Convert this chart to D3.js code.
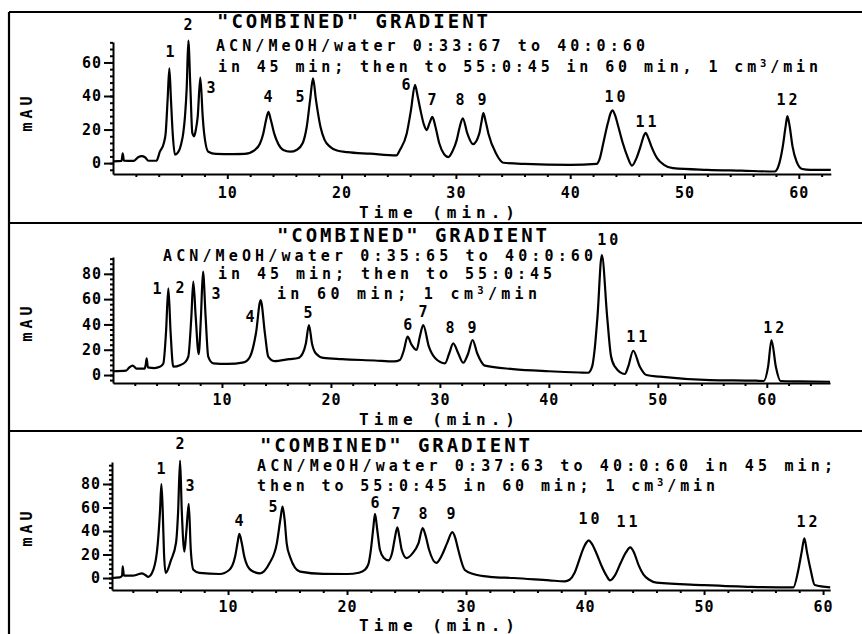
<!DOCTYPE html>
<html>
<head>
<meta charset="UTF-8">
<title>"COMBINED" GRADIENT chromatograms</title>
<script src="https://cdnjs.cloudflare.com/ajax/libs/d3/7.8.5/d3.min.js"></script>
<style>
  body { margin: 0; background: #fff; }
  svg text { font-family: "DejaVu Sans Mono", monospace; font-weight: bold; fill: #000; }
  .axis path, .axis line { stroke: #000; stroke-width: 2; }
  .axis text { font-family: "DejaVu Sans Mono", monospace; font-weight: bold; font-size: 15px; letter-spacing: 1px; }
</style>
</head>
<body>
<script>
// peak numbers, same 12 compounds in every run
var peakNames = ["1", "2", "3", "4", "5", "6", "7", "8", "9", "10", "11", "12"];

// traces: [time (min), signal (mAU)]
var trace1 = [
  [0,1],[0.75,1.3],[0.85,5.8],[0.95,1.5],[1.8,1.3],[2.2,3.5],[2.5,4.2],[2.8,3.5],[3.1,1.4],[3.8,1.4],
  [4.1,6.8],[4.45,12],[4.61,18],[4.78,38],[4.93,56.5],[5.07,38],[5.22,18],[5.42,5],[5.7,6.5],[5.95,11],
  [6.15,18],[6.3,28],[6.45,45],[6.59,73],[6.77,45],[6.94,18],[7.1,16],[7.25,20],[7.41,27.6],[7.64,51],
  [7.85,27.6],[7.97,18],[8.34,6.8],[9,5.5],[10.5,5.4],[11.5,5.5],[12.4,7.8],[12.85,11.5],[13.15,17.7],
  [13.4,26],[13.6,30.5],[13.8,26],[14.1,17.7],[14.45,11.5],[14.9,7.8],[15.5,6.8],[16.1,8],[16.6,12],
  [16.95,21.7],[17.25,38],[17.5,50.5],[17.75,38],[18.15,21.7],[18.5,14],[19.0,9.7],[19.6,7.5],[20.5,6.5],
  [22.5,5.6],[24.8,4.6],[25.1,7.8],[25.7,17.7],[26.07,31.6],[26.42,46.6],[26.65,40],[26.9,31.6],[27.2,23],
  [27.44,19.7],[27.7,24],[27.94,27.5],[28.2,22],[28.55,11.7],[28.95,5.5],[29.34,3.6],[29.7,7],[30.07,13.7],
  [30.35,22],[30.6,26.7],[31.0,17.7],[31.5,11.3],[32.05,17.7],[32.25,25],[32.4,29.8],[32.6,25],[32.84,17.7],
  [33.5,5.8],[34.15,0.2],[36,-0.5],[40,-1],[42.3,-0.5],[42.6,3],[42.9,12],[43.3,24],[43.55,30],[43.7,31.5],
  [43.9,29],[44.2,22],[44.6,12],[45.0,4],[45.4,-1.5],[45.8,3],[46.2,11],[46.45,16.5],[46.6,18],[46.8,15.5],
  [47.1,10],[47.6,3],[48.2,-1],[49,-3],[52,-4],[55,-4.5],[57.9,-5],[58.3,0],[58.6,10],[58.85,22],[59.0,28],
  [59.2,22],[59.45,10],[59.8,1],[60.3,-3.5],[61,-4],[62.8,-4]
];
var trace2 = [
  [0,3],[1.2,3.5],[1.5,6],[1.8,7.4],[2.2,5],[2.9,5],[3.0,8],[3.09,13.2],[3.2,6],[3.8,5.5],[4.3,6.5],
  [4.62,9.2],[4.86,33],[5.08,68.5],[5.29,33],[5.53,6.6],[6.2,8],[6.6,10],[6.91,14.5],[7.19,46],[7.37,73.8],
  [7.59,46],[7.86,16.6],[8.07,46],[8.26,81.7],[8.5,46],[8.74,14.5],[9.2,9.2],[10.5,8.8],[12.0,10],
  [12.57,14.5],[13.12,33],[13.55,59.3],[13.94,33],[14.25,14.5],[14.8,11],[16.2,12.6],[17.0,13.5],[17.4,17],
  [17.7,25],[17.98,39.5],[18.26,25],[18.62,17],[19.3,13.5],[21,12.5],[24,11.5],[25.8,10.8],[26.33,11.9],
  [26.7,19.8],[27.03,30.3],[27.4,24],[27.86,19.8],[28.15,30],[28.47,39.5],[28.99,22.4],[29.6,13],
  [30.46,9.2],[30.86,17.2],[31.22,25],[31.68,17.2],[32.14,9.7],[32.6,17.2],[33.0,27.7],[33.42,17.2],
  [34.13,7.4],[36.7,4.7],[40,3],[42.8,2],[43.6,1.8],[43.97,6.6],[44.2,20],[44.46,46],[44.86,94.9],
  [45.35,46],[45.7,15],[46.06,6.6],[46.97,0.8],[47.28,6.6],[47.74,19.2],[48.35,6.6],[48.96,0],[50.18,-1.3],
  [54.8,-4],[59.0,-4.5],[59.72,-4.7],[60.12,6.6],[60.43,27.7],[60.83,6.6],[61.26,-4.7],[63,-5],[65.8,-5.3]
];
var trace3 = [
  [0.25,0],[0.9,0.5],[1.1,2],[1.15,10],[1.25,2],[2.0,2],[2.4,3],[2.75,4],[3.05,2.5],[3.3,1],[3.6,4],
  [4.01,21],[4.29,58],[4.4,80],[4.51,58],[4.62,21],[4.76,4.3],[5.2,15],[5.63,30],[5.8,55],[5.97,99.8],
  [6.11,58],[6.33,22.4],[6.5,40],[6.7,63],[6.87,24],[7.09,7],[7.6,4.3],[9.3,3.4],[10.1,6.8],[10.59,18],
  [10.8,30],[10.95,37.5],[11.15,30],[11.37,18],[11.9,6.8],[12.69,4],[13.48,12.5],[14.1,29.5],[14.4,50],
  [14.58,60.7],[14.75,50],[14.93,29.5],[15.21,18],[16.05,5.4],[18,3.5],[20,3.4],[21.0,4.5],[21.5,7],
  [21.8,12],[22.0,23.8],[22.2,42],[22.35,54.5],[22.55,40],[22.77,23.8],[23.1,17],[23.47,15],[23.8,22],
  [24.0,33],[24.23,43],[24.4,35],[24.6,23.8],[25.0,17],[25.5,21],[26.0,29.5],[26.36,42.4],[26.6,36],
  [26.9,23.8],[27.5,12.8],[28.0,20],[28.4,29.5],[28.85,39],[29.1,34],[29.35,23.8],[29.9,6.8],[30.6,3.4],
  [32,1],[34,0],[37,-2],[38.3,-2.8],[38.7,-1.5],[39.1,4],[39.5,15],[39.85,25],[40.1,30],[40.3,32],[40.55,29.5],
  [41.0,20],[41.4,10],[41.8,2],[42.1,-2],[42.5,2],[43.0,13],[43.45,22],[43.8,26],[44.1,22],[44.5,11],
  [44.9,3],[45.4,-1.5],[46,-4],[50,-6],[54,-7.5],[57.5,-8],[57.92,6.8],[58.2,22],[58.43,33.8],[58.65,22],
  [58.96,6.8],[59.3,-6],[60.6,-8]
];

// where each peak number sits, in [time, mAU]
var labels1 = [[4.99,66.3],[6.56,82.4],[8.57,44.8],[13.56,39.4],[16.36,39.4],[25.63,46.6],[27.91,37.6],[30.36,37.6],[32.28,37.6],[43.92,39.4],[46.63,24.5],[58.97,37.6]];
var labels2 = [[4.04,68],[6.15,68.8],[9.45,64],[12.57,45.8],[17.89,49],[27.06,39.5],[28.44,49.8],[30.92,37.2],[32.94,37.2],[45.41,106.7],[48.07,30],[60.64,37.2]];
var labels3 = [[4.37,92.8],[5.97,114],[6.81,78.3],[10.92,48.5],[13.78,60.4],[22.35,63.8],[24.12,54.5],[26.39,54.5],[28.74,54.5],[40.34,50.2],[43.53,47.7],[58.66,47.7]];

var yTicks1 = [0, 20, 40, 60];
var yTicks23 = [0, 20, 40, 60, 80];
var xTicks = [10, 20, 30, 40, 50, 60];

var captions1 = ['"COMBINED" GRADIENT', 'ACN/MeOH/water 0:33:67 to 40:0:60', 'in 45 min; then to 55:0:45 in 60 min, 1 cm³/min'];
var captions2 = ['"COMBINED" GRADIENT', 'ACN/MeOH/water 0:35:65 to 40:0:60', 'in 45 min; then to 55:0:45', 'in 60 min; 1 cm³/min'];
var captions3 = ['"COMBINED" GRADIENT', 'ACN/MeOH/water 0:37:63 to 40:0:60 in 45 min;', 'then to 55:0:45 in 60 min; 1 cm³/min'];

var width = 862, height = 634;

// layout of the three stacked panels
var panels = [
  { trace: trace1, labels: labels1, yTicks: yTicks1, captions: captions1,
    xDomain: [0, 62.8], xRange: [113, 830.8], yDomain: [-6.5, 72.2], yRange: [174, 42],
    capBoxes: [[217, 488, 21, 19], [216, 645, 46, 15], [218, 818, 67, 15]],
    unitY: 112, timeY: 212, tickPad: 8 },
  { trace: trace2, labels: labels2, yTicks: yTicks23, captions: captions2,
    xDomain: [0, 65.8], xRange: [113, 830], yDomain: [-6.3, 93.3], yRange: [383, 257],
    capBoxes: [[277, 547, 235, 19], [163, 593, 256, 15], [218, 552, 274, 15], [277, 537, 294, 15]],
    unitY: 322, timeY: 419, tickPad: 6 },
  { trace: trace3, labels: labels3, yTicks: yTicks23, captions: captions3,
    xDomain: [0.25, 60.6], xRange: [112, 830.2], yDomain: [-10.2, 98.7], yRange: [590, 462],
    capBoxes: [[260, 530, 445, 19], [257, 833, 466, 15], [257, 715, 486, 15]],
    unitY: 527, timeY: 625, tickPad: 6 }
];

var svg = d3.select("body").append("svg")
    .attr("width", width)
    .attr("height", height);

svg.append("rect").attr("width", width).attr("height", height).attr("fill", "#fff");

// outer frame: left edge + panel separators (no right edge in the scan)
svg.append("line").attr("x1", 9).attr("x2", 9).attr("y1", 12).attr("y2", height)
    .attr("stroke", "#000").attr("stroke-width", 2.2);
[12, 223, 431].forEach(function (y) {
  svg.append("line").attr("x1", 9).attr("x2", width).attr("y1", y).attr("y2", y)
      .attr("stroke", "#000").attr("stroke-width", 2.2);
});

function addText(g, str, x0, x1, yc, size) {
  var t = g.append("text")
      .attr("x", x0).attr("y", yc)
      .attr("dominant-baseline", "central")
      .attr("font-size", size)
      .attr("textLength", x1 - x0)
      .attr("lengthAdjust", "spacing");
  str.split("³").forEach(function (part, i) {
    if (i > 0) {
      t.append("tspan").attr("dy", -4).attr("font-size", size * 0.7).text("3");
      t.append("tspan").attr("dy", 4).text(part);
    } else {
      t.append("tspan").text(part);
    }
  });
  return t;
}

panels.forEach(function (p) {
  var g = svg.append("g");
  var x = d3.scaleLinear().domain(p.xDomain).range(p.xRange);
  var y = d3.scaleLinear().domain(p.yDomain).range(p.yRange);

  // y axis: minor ticks every 4 mAU, majors labelled
  var yMinor = d3.range(Math.ceil(p.yDomain[0] / 4) * 4, p.yDomain[1], 4);
  g.append("g").attr("class", "axis")
      .attr("transform", "translate(" + p.xRange[0] + ",0)")
      .call(d3.axisLeft(y).tickValues(yMinor).tickSize(3).tickSizeOuter(0).tickFormat(""));
  g.append("g").attr("class", "axis")
      .attr("transform", "translate(" + p.xRange[0] + ",0)")
      .call(d3.axisLeft(y).tickValues(p.yTicks).tickSize(9).tickPadding(2).tickSizeOuter(0).tickFormat(d3.format("d")))
      .call(function (a) { a.select(".domain").remove(); });

  // x axis
  var xMinor = d3.range(2, p.xDomain[1], 2).filter(function (d) { return d % 10 !== 0; });
  g.append("g").attr("class", "axis")
      .attr("transform", "translate(0," + p.yRange[0] + ")")
      .call(d3.axisBottom(x).tickValues(xMinor).tickSize(3).tickSizeOuter(0).tickFormat(""));
  g.append("g").attr("class", "axis")
      .attr("transform", "translate(0," + p.yRange[0] + ")")
      .call(d3.axisBottom(x).tickValues(xTicks).tickSize(5).tickPadding(p.tickPad).tickSizeOuter(0).tickFormat(d3.format("d")))
      .call(function (a) { a.select(".domain").remove(); });

  // chromatogram
  var line = d3.line()
      .x(function (d) { return x(d[0]); })
      .y(function (d) { return y(d[1]); })
      .curve(d3.curveMonotoneX);
  g.append("path")
      .datum(p.trace)
      .attr("d", line)
      .attr("fill", "none")
      .attr("stroke", "#000")
      .attr("stroke-width", 2.2)
      .attr("stroke-linejoin", "round");

  // peak numbers
  g.selectAll(null)
      .data(p.labels)
      .enter()
      .append("text")
      .attr("x", function (d) { return x(d[0]) + 1.5; })
      .attr("y", function (d) { return y(d[1]); })
      .attr("text-anchor", "middle")
      .attr("dominant-baseline", "central")
      .attr("font-size", 15)
      .attr("letter-spacing", 3)
      .text(function (d, i) { return peakNames[i]; });

  // gradient description
  p.captions.forEach(function (c, i) {
    var b = p.capBoxes[i];
    addText(g, c, b[0], b[1], b[2], b[3]);
  });

  // axis titles
  g.append("text")
      .attr("transform", "translate(27," + p.unitY + ") rotate(-90)")
      .attr("text-anchor", "middle")
      .attr("dominant-baseline", "central")
      .attr("font-size", 15)
      .attr("letter-spacing", 4)
      .text("mAU");
  addText(g, "Time (min.)", 359, 515, p.timeY, 16);
});
</script>
</body>
</html>
